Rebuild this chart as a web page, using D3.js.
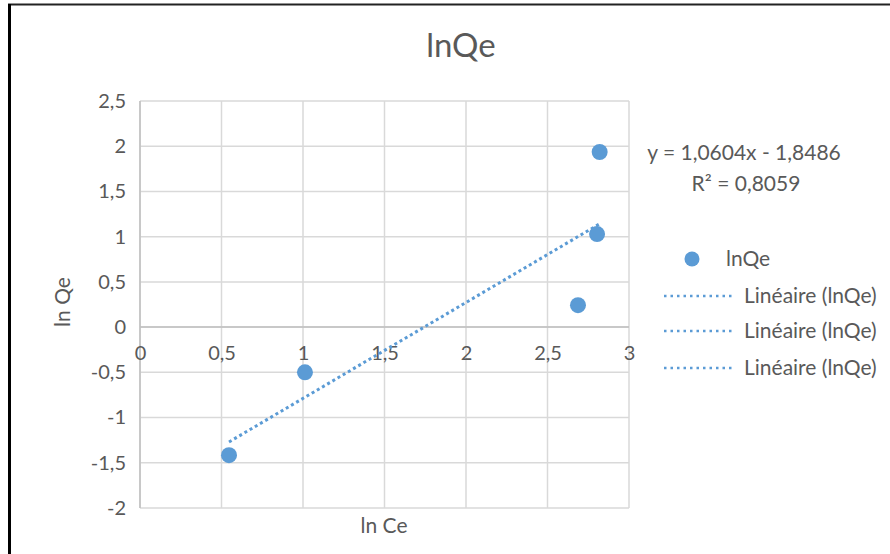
<!DOCTYPE html>
<html>
<head>
<meta charset="utf-8">
<script src="https://cdn.jsdelivr.net/npm/d3@7"></script>
<style>
  html, body { margin: 0; padding: 0; background: #fff; }
  svg { display: block; font-family: Lato, "Open Sans", sans-serif; }
</style>
</head>
<body>
<svg id="chart" width="890" height="554"></svg>
<script>
// ln Ce / ln Qe observations
const lnCe = [0.546, 1.012, 2.687, 2.804, 2.82];
const lnQe = [-1.416, -0.50, 0.243, 1.029, 1.936];

// Linear trend (least squares) coefficients
const trendSlope = 1.0604;
const trendIntercept = -1.8486;
const trendR2 = 0.8059;

const xTicks = [0, 0.5, 1, 1.5, 2, 2.5, 3];
const yTicks = [-2, -1.5, -1, -0.5, 0, 0.5, 1, 1.5, 2, 2.5];

const legendLabels = ["lnQe", "Linéaire (lnQe)", "Linéaire (lnQe)", "Linéaire (lnQe)"];

const fmt = v => String(v).replace(".", ",");
const blue = "#5b9bd5";
const textGray = "#595959";
const FONT = "Lato, 'Open Sans', sans-serif";

const svg = d3.select("#chart");

// Frame lines on the top and left edges
svg.append("line").attr("x1", 8).attr("x2", 890).attr("y1", 4.5).attr("y2", 4.5)
  .attr("stroke", "#222").attr("stroke-width", 2);
svg.append("line").attr("x1", 9.5).attr("x2", 9.5).attr("y1", 4).attr("y2", 554)
  .attr("stroke", "#000").attr("stroke-width", 3);

const x = d3.scaleLinear().domain([0, 3]).range([140, 629]);
const y = d3.scaleLinear().domain([-2, 2.5]).range([508, 101]);

// Gridlines
const grid = svg.append("g");
grid.selectAll(".vg").data(xTicks).join("line")
  .attr("x1", d => x(d)).attr("x2", d => x(d))
  .attr("y1", y(2.5)).attr("y2", y(-2))
  .attr("stroke", "#d9d9d9").attr("stroke-width", 1.5);
grid.selectAll(".hg").data(yTicks).join("line")
  .attr("x1", x(0)).attr("x2", x(3))
  .attr("y1", d => y(d)).attr("y2", d => y(d))
  .attr("stroke", "#d9d9d9").attr("stroke-width", 1.5);

// Axis lines
svg.append("line").attr("x1", x(0)).attr("x2", x(3)).attr("y1", y(0)).attr("y2", y(0))
  .attr("stroke", "#bfbfbf").attr("stroke-width", 1.5);
svg.append("line").attr("x1", x(0)).attr("x2", x(0)).attr("y1", y(2.5)).attr("y2", y(-2))
  .attr("stroke", "#bfbfbf").attr("stroke-width", 1.5);

// Y axis tick labels
const yAxis = d3.axisLeft(y).tickValues(yTicks).tickFormat(fmt).tickSize(0).tickPadding(14);
const gy = svg.append("g").attr("transform", `translate(${x(0)},0)`).call(yAxis);
gy.select(".domain").remove();
gy.selectAll("text").attr("fill", textGray).style("font-size", "20px").style("font-family", FONT);

// X axis tick labels, sitting just under the zero line
const xAxis = d3.axisBottom(x).tickValues(xTicks).tickFormat(fmt).tickSize(0).tickPadding(19);
const gx = svg.append("g").attr("transform", `translate(0,${y(0)})`).call(xAxis);
gx.select(".domain").remove();
gx.selectAll("text").attr("fill", textGray).style("font-size", "20px").style("font-family", FONT);

// Trend line over the data range
const xMin = d3.min(lnCe), xMax = d3.max(lnCe);
svg.append("line")
  .attr("x1", x(xMin)).attr("y1", y(trendSlope * xMin + trendIntercept))
  .attr("x2", x(xMax)).attr("y2", y(trendSlope * xMax + trendIntercept))
  .attr("stroke", blue).attr("stroke-width", 3).attr("stroke-dasharray", "3,3");

// Points
svg.append("g").selectAll("circle").data(lnCe.map((v, i) => [v, lnQe[i]])).join("circle")
  .attr("cx", d => x(d[0])).attr("cy", d => y(d[1])).attr("r", 8)
  .attr("fill", blue);

// Title
svg.append("text").attr("x", 461).attr("y", 57).attr("text-anchor", "middle")
  .attr("fill", textGray).style("font-size", "33px").text("lnQe");

// Axis titles
svg.append("text").attr("x", 384).attr("y", 533).attr("text-anchor", "middle")
  .attr("fill", textGray).style("font-size", "21px").text("ln Ce");
svg.append("text").attr("transform", "translate(70,302) rotate(-90)").attr("text-anchor", "middle")
  .attr("fill", textGray).style("font-size", "21px").text("ln Qe");

// Trend equation
svg.append("text").attr("x", 744).attr("y", 160).attr("text-anchor", "middle")
  .attr("fill", textGray).style("font-size", "21px")
  .text(`y = ${fmt(trendSlope)}x - ${fmt(Math.abs(trendIntercept))}`);
svg.append("text").attr("x", 746).attr("y", 191).attr("text-anchor", "middle")
  .attr("fill", textGray).style("font-size", "21px")
  .text(`R² = ${fmt(trendR2)}`);

// Legend
const legendY = [259, 296, 331, 368];
const lg = svg.append("g");
lg.append("circle").attr("cx", 692).attr("cy", legendY[0]).attr("r", 7.5).attr("fill", blue);
lg.append("text").attr("x", 726).attr("y", legendY[0] + 7).attr("fill", textGray)
  .style("font-size", "21px").text(legendLabels[0]);
legendLabels.slice(1).forEach((lab, i) => {
  const yy = legendY[i + 1];
  lg.append("line").attr("x1", 664).attr("x2", 734).attr("y1", yy).attr("y2", yy)
    .attr("stroke", blue).attr("stroke-width", 2.5).attr("stroke-dasharray", "2.5,4");
  lg.append("text").attr("x", 744).attr("y", yy + 7).attr("fill", textGray)
    .style("font-size", "21px").text(lab);
});
</script>
</body>
</html>
